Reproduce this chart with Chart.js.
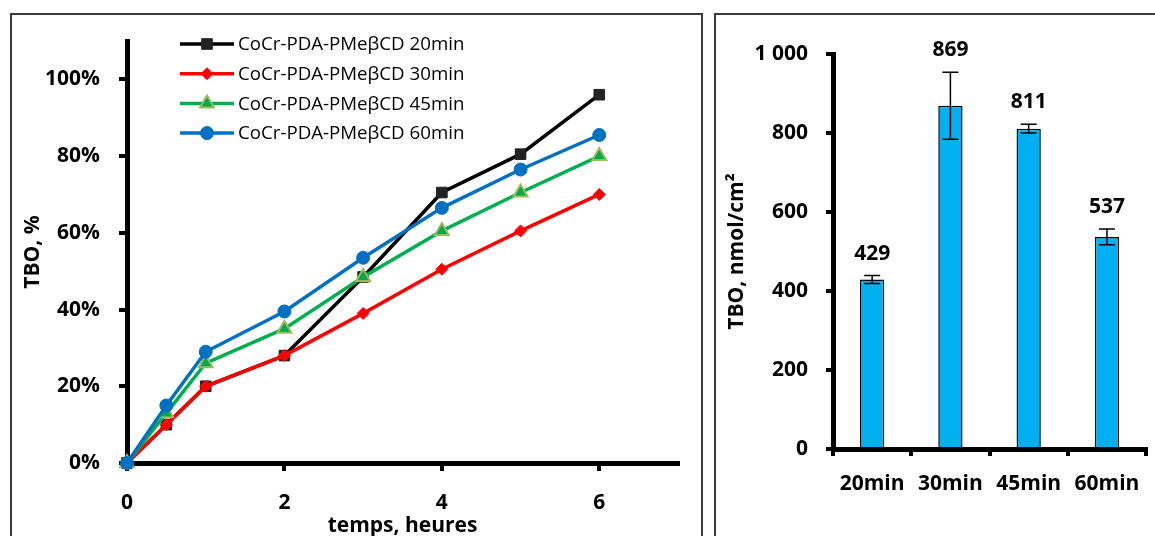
<!DOCTYPE html>
<html>
<head>
<meta charset="utf-8">
<script src="https://cdn.jsdelivr.net/npm/chart.js@4.4.0/dist/chart.umd.min.js"></script>
<style>
  html, body { margin: 0; padding: 0; background: #fff; width: 1155px; height: 536px; overflow: hidden; }
  .cadre { position: absolute; border: 2px solid #3a3a3a; box-sizing: border-box; }
  canvas { position: absolute; }
</style>
</head>
<body>
<div class="cadre" style="left:10px; top:13px; width:693px; height:560px;"></div>
<div class="cadre" style="left:714px; top:13px; width:460px; height:560px;"></div>
<canvas id="graf-cinetique" width="692" height="526" style="left:10px; top:13px;"></canvas>
<canvas id="graf-barres" width="440" height="523" style="left:715px; top:13px;"></canvas>

<script>
// Données
const temps = [0, 0.5, 1, 2, 3, 4, 5, 6];
const serie20 = [0, 10, 20, 28, 48.5, 70.5, 80.5, 96];
const serie30 = [0, 10, 20, 28, 39, 50.5, 60.5, 70];
const serie45 = [0, 13, 26, 35, 48.5, 60.5, 70.5, 80];
const serie60 = [0, 15, 29, 39.5, 53.5, 66.5, 76.5, 85.5];
const nomsSeries = ['CoCr-PDA-PMeβCD 20min', 'CoCr-PDA-PMeβCD 30min', 'CoCr-PDA-PMeβCD 45min', 'CoCr-PDA-PMeβCD 60min'];

const durees = ['20min', '30min', '45min', '60min'];
const tboValeurs = [429, 869, 811, 537];
const tboErreurs = [10, 85, 11, 20];

const police = '"Open Sans", "DejaVu Sans", sans-serif';

function points(valeurs) {
  return temps.map((t, i) => ({ x: t, y: valeurs[i] }));
}

// Légende dessinée à la main (ligne + marqueur + texte)
const legendeLignes = {
  id: 'legendeLignes',
  afterDraw(chart) {
    const { ctx, chartArea } = chart;
    chart.data.datasets.forEach((ds, i) => {
      const y = chartArea.top + 3 + i * 29.7;
      const x0 = chartArea.left + 53;
      const x1 = chartArea.left + 107;
      ctx.save();
      ctx.strokeStyle = ds.borderColor;
      ctx.lineWidth = ds.borderWidth;
      ctx.beginPath();
      ctx.moveTo(x0, y);
      ctx.lineTo(x1, y);
      ctx.stroke();
      ctx.fillStyle = ds.pointBackgroundColor;
      ctx.strokeStyle = ds.pointBorderColor;
      ctx.lineWidth = ds.pointBorderWidth;
      Chart.helpers.drawPoint(ctx, {
        pointStyle: ds.pointStyle,
        radius: ds.pointRadius,
        borderWidth: ds.pointBorderWidth,
        rotation: 0
      }, (x0 + x1) / 2, y);
      ctx.fillStyle = '#000';
      ctx.font = '18.7px ' + police;
      ctx.textBaseline = 'middle';
      ctx.textAlign = 'left';
      ctx.fillText(ds.label, chartArea.left + 111, y + 1);
      ctx.restore();
    });
  }
};

new Chart(document.getElementById('graf-cinetique'), {
  type: 'line',
  data: {
    datasets: [
      {
        label: nomsSeries[0], data: points(serie20), order: 4, clip: false,
        borderColor: '#000', borderWidth: 3.5,
        pointStyle: 'rect', pointRadius: 7.5, pointBackgroundColor: '#222', pointBorderColor: '#222', pointBorderWidth: 1
      },
      {
        label: nomsSeries[1], data: points(serie30), order: 3, clip: false,
        borderColor: '#ff0000', borderWidth: 3.5,
        pointStyle: 'rectRot', pointRadius: 6, pointBackgroundColor: '#ff0000', pointBorderColor: '#ff0000', pointBorderWidth: 1
      },
      {
        label: nomsSeries[2], data: points(serie45), order: 2, clip: false,
        borderColor: '#00b050', borderWidth: 3.5,
        pointStyle: 'triangle', pointRadius: 8, pointBackgroundColor: '#00a84f', pointBorderColor: '#9bbb59', pointBorderWidth: 2
      },
      {
        label: nomsSeries[3], data: points(serie60), order: 1, clip: false,
        borderColor: '#0070c0', borderWidth: 3.5,
        pointStyle: 'circle', pointRadius: 6.5, pointBackgroundColor: '#0070c0', pointBorderColor: '#0070c0', pointBorderWidth: 1
      }
    ]
  },
  options: {
    responsive: false,
    animation: false,
    layout: { padding: { top: 28, right: 24, left: 0, bottom: 0 } },
    plugins: { legend: { display: false }, tooltip: { enabled: false } },
    scales: {
      x: {
        type: 'linear', min: 0, max: 7,
        afterBuildTicks: s => { s.ticks = s.ticks.filter(t => t.value <= 6); },
        afterFit: s => { s.height = 76; },
        ticks: { stepSize: 2, color: '#000', padding: 19, font: { family: police, size: 21, weight: 'bold' } },
        grid: { drawOnChartArea: false, drawTicks: true, tickLength: 8, color: '#000', lineWidth: 4 },
        border: { color: '#000', width: 5 },
        title: { display: true, text: 'temps, heures', color: '#000', padding: { top: 0, bottom: 0 },
                 font: { family: police, size: 21, weight: 'bold' } }
      },
      y: {
        min: 0, max: 110,
        afterBuildTicks: s => { s.ticks = s.ticks.filter(t => t.value <= 100); },
        // la marge du haut est déjà fixée par layout.padding
        afterFit: s => { s.width = 117; s.paddingTop = 0; },
        ticks: { stepSize: 20, color: '#000', padding: 19, callback: v => v + '%',
                 font: { family: police, size: 21, weight: 'bold' } },
        grid: { drawOnChartArea: false, drawTicks: true, tickLength: 8, color: '#000', lineWidth: 4 },
        border: { color: '#000', width: 5 },
        title: { display: true, text: 'TBO, %', color: '#000', padding: { top: 10, bottom: 0 },
                 font: { family: police, size: 21, weight: 'bold' } }
      }
    }
  },
  plugins: [legendeLignes]
});

// Barres d'erreur et étiquettes des valeurs
const barresErreur = {
  id: 'barresErreur',
  afterDatasetsDraw(chart) {
    const { ctx } = chart;
    const echelleY = chart.scales.y;
    chart.getDatasetMeta(0).data.forEach((barre, i) => {
      const haut = echelleY.getPixelForValue(tboValeurs[i] + tboErreurs[i]);
      const bas = echelleY.getPixelForValue(tboValeurs[i] - tboErreurs[i]);
      const x = barre.x;
      ctx.save();
      ctx.strokeStyle = '#000';
      ctx.lineWidth = 1.5;
      ctx.beginPath();
      ctx.moveTo(x, haut); ctx.lineTo(x, bas);
      ctx.moveTo(x - 8, haut); ctx.lineTo(x + 8, haut);
      ctx.moveTo(x - 8, bas); ctx.lineTo(x + 8, bas);
      ctx.stroke();
      ctx.fillStyle = '#000';
      ctx.font = 'bold 21px ' + police;
      ctx.textAlign = 'center';
      ctx.textBaseline = 'middle';
      ctx.fillText(String(tboValeurs[i]), x, haut - 22);
      ctx.restore();
    });
  }
};

new Chart(document.getElementById('graf-barres'), {
  type: 'bar',
  data: {
    labels: durees,
    datasets: [{
      data: tboValeurs,
      backgroundColor: '#00b0f0',
      borderColor: '#000',
      borderWidth: 1.5,
      categoryPercentage: 1,
      barPercentage: 0.31
    }]
  },
  options: {
    responsive: false,
    animation: false,
    layout: { padding: { top: 41, right: 5, left: 0, bottom: 0 } },
    plugins: { legend: { display: false }, tooltip: { enabled: false } },
    scales: {
      x: {
        afterFit: s => { s.height = 87; },
        ticks: { color: '#000', padding: 15, font: { family: police, size: 21, weight: 'bold' } },
        grid: { offset: true, drawOnChartArea: false, drawTicks: true, tickLength: 7, color: '#000', lineWidth: 4 },
        border: { color: '#000', width: 5 }
      },
      y: {
        min: 0, max: 1000,
        afterFit: s => { s.width = 118; },
        ticks: { stepSize: 200, color: '#000', padding: 18,
                 callback: v => String(v).replace(/\B(?=(\d{3})+(?!\d))/g, ' '),
                 font: { family: police, size: 21, weight: 'bold' } },
        grid: { drawOnChartArea: false, drawTicks: true, tickLength: 7, color: '#000', lineWidth: 4 },
        border: { color: '#000', width: 5 },
        title: { display: true, text: 'TBO, nmol/cm²', color: '#000', padding: { top: 9, bottom: 0 },
                 font: { family: police, size: 21, weight: 'bold' } }
      }
    }
  },
  plugins: [barresErreur]
});
</script>
</body>
</html>
